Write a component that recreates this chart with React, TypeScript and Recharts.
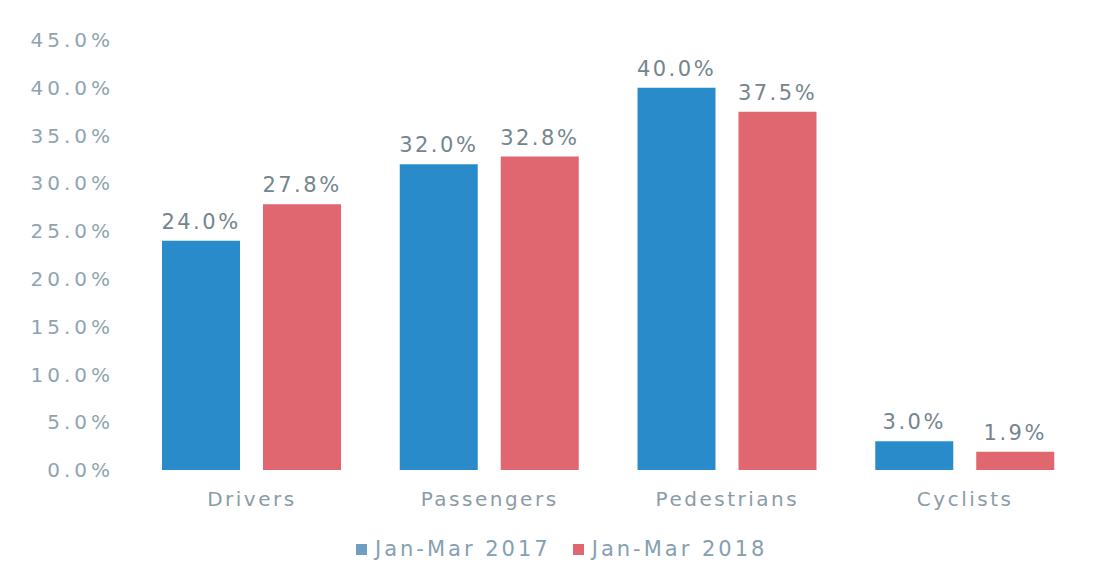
import React from 'react';
import { BarChart, Bar, XAxis, YAxis, Legend, LabelList } from 'recharts';

const categories = ['Drivers', 'Passengers', 'Pedestrians', 'Cyclists'];
const series2017 = [24.0, 32.0, 40.0, 3.0];
const series2018 = [27.8, 32.8, 37.5, 1.9];
const yTicks = [0, 5, 10, 15, 20, 25, 30, 35, 40, 45];

const data = categories.map((c, i) => ({ name: c, y2017: series2017[i], y2018: series2018[i] }));

const FONT = '"DejaVu Sans", Verdana, sans-serif';
const BLUE = '#2a8bcb';
const RED = '#e0666f';

const renderLegend = () => (
  <div style={{ display: 'flex', alignItems: 'center', fontFamily: FONT, fontSize: 21, letterSpacing: 3, color: '#86a0b0' }}>
    <span style={{ display: 'inline-block', width: 11, height: 11, background: '#6f9fc0', marginRight: 8 }} />
    <span style={{ marginRight: 22 }}>Jan-Mar 2017</span>
    <span style={{ display: 'inline-block', width: 11, height: 11, background: RED, marginRight: 8 }} />
    <span>Jan-Mar 2018</span>
  </div>
);

export default function App() {
  return (
    <div style={{ position: 'absolute', left: 0, top: 0, width: 1105, height: 585, background: '#fff' }}>
      <BarChart
        width={1105}
        height={585}
        data={data}
        margin={{ top: 40, right: 21, bottom: 0, left: 0 }}
        barCategoryGap={29}
        barGap={23}
      >
        <XAxis
          dataKey="name"
          axisLine={false}
          tickLine={false}
          tickSize={0}
          tickMargin={22}
          height={60}
          tick={{ fill: '#8a9ca6', fontSize: 20, fontFamily: FONT, letterSpacing: 2.5 }}
          interval={0}
        />
        <YAxis
          domain={[0, 45]}
          ticks={yTicks}
          axisLine={false}
          tickLine={false}
          tickSize={0}
          tickMargin={19}
          width={133}
          tickFormatter={(v: number) => v.toFixed(1) + '%'}
          tick={{ fill: '#8fa4b0', fontSize: 20, fontFamily: FONT, letterSpacing: 4 }}
        />
        <Legend
          verticalAlign="bottom"
          height={55}
          content={renderLegend}
          wrapperStyle={{ left: 356, width: 'auto', top: 537 }}
        />
        <Bar dataKey="y2017" name="Jan-Mar 2017" fill={BLUE} isAnimationActive={false}>
          <LabelList
            dataKey="y2017"
            position="top"
            offset={12}
            formatter={(v: number) => v.toFixed(1) + '%'}
            style={{ fill: '#74858e', fontSize: 21, fontFamily: FONT, letterSpacing: 2.5 }}
          />
        </Bar>
        <Bar dataKey="y2018" name="Jan-Mar 2018" fill={RED} isAnimationActive={false}>
          <LabelList
            dataKey="y2018"
            position="top"
            offset={12}
            formatter={(v: number) => v.toFixed(1) + '%'}
            style={{ fill: '#74858e', fontSize: 21, fontFamily: FONT, letterSpacing: 2.5 }}
          />
        </Bar>
      </BarChart>
    </div>
  );
}
